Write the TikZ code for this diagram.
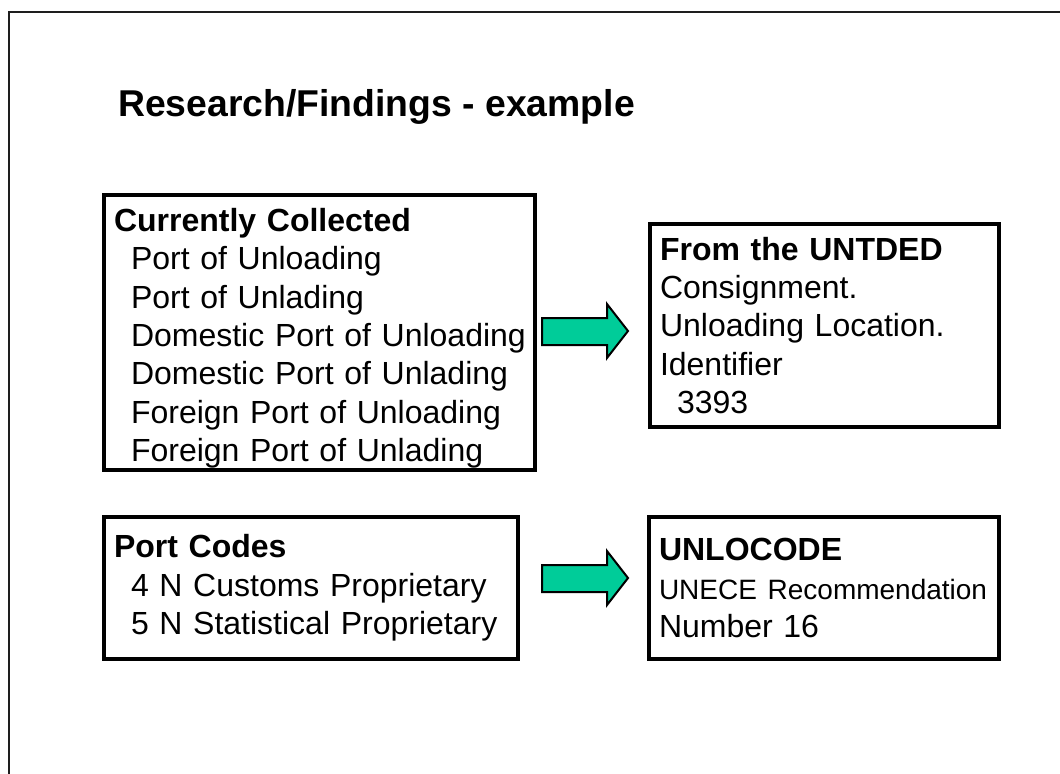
\documentclass[tikz,border=0pt]{standalone}
\usepackage{fontspec}
\setmainfont{Liberation Sans}
\usepackage{xcolor}

\begin{document}
\begin{tikzpicture}[x=0.75pt, y=-0.75pt,
  panel/.style={draw=black, line width=3pt, align=left, inner xsep=7.5pt, inner ysep=0pt,
    font=\fontsize{24}{28.8}\selectfont},
  blockarrow/.style={fill=arrowgreen, draw=black, line width=1.5pt, line join=miter}]

\definecolor{arrowgreen}{RGB}{0, 204, 153}
\definecolor{framegray}{RGB}{30, 30, 30}

% Page area
\useasboundingbox (0,0) rectangle (1060,774);
\fill[white] (0,0) rectangle (1060,774);

% Slide frame (runs off the page)
\draw[framegray, line width=1.5pt] (9,800) -- (9,12) -- (1090,12);

% Title
\node[anchor=base west, inner sep=0pt, font=\bfseries\fontsize{28}{33.6}\selectfont] (title) at (118,117) {Research/Findings - example};

% Upper row
\node[panel, minimum width=323.25pt, minimum height=206.25pt, text width=308.25pt] (collected) at (319.5,332.5) {%
  \rule{0pt}{26pt}\textbf{Currently Collected}\\
  \hspace*{12.75pt}Port of Unloading\\
  \hspace*{12.75pt}Port of Unlading\\
  \mbox{\hspace*{12.75pt}Domestic Port of Unloading}\\
  \hspace*{12.75pt}Domestic Port of Unlading\\
  \hspace*{12.75pt}Foreign Port of Unloading\\
  \hspace*{12.75pt}Foreign Port of Unlading};

\node[panel, minimum width=261.75pt, minimum height=152.25pt, text width=246.75pt] (untded) at (824.5,325.5) {%
  \textbf{From the UNTDED}\\
  Consignment.\\
  Unloading Location.\\
  Identifier\\
  \hspace*{12.75pt}3393};

\coordinate (tipA) at (628,331);
\draw[blockarrow] (tipA) ++(-86,-13) -- ++(65,0) -- ++(0,-14) -- (tipA) -- ++(-21,27) -- ++(0,-13) -- ++(-65,0) -- cycle;

% Lower row
\node[panel, minimum width=310.5pt, minimum height=106.5pt, text width=295.5pt] (portcodes) at (311,588) {%
  \textbf{Port Codes}\\
  \hspace*{12.75pt}4 N Customs Proprietary\\
  \hspace*{12.75pt}5 N Statistical Proprietary};

\node[panel, minimum width=262.5pt, minimum height=106.5pt, text width=247.5pt] (unlocode) at (824,588) {%
  \textbf{UNLOCODE}\\
  {\fontsize{21}{28.8}\selectfont UNECE Recommendation}\\
  Number 16};

\coordinate (tipB) at (628,578);
\draw[blockarrow] (tipB) ++(-86,-13) -- ++(65,0) -- ++(0,-14) -- (tipB) -- ++(-21,27) -- ++(0,-13) -- ++(-65,0) -- cycle;

\end{tikzpicture}
\end{document}
